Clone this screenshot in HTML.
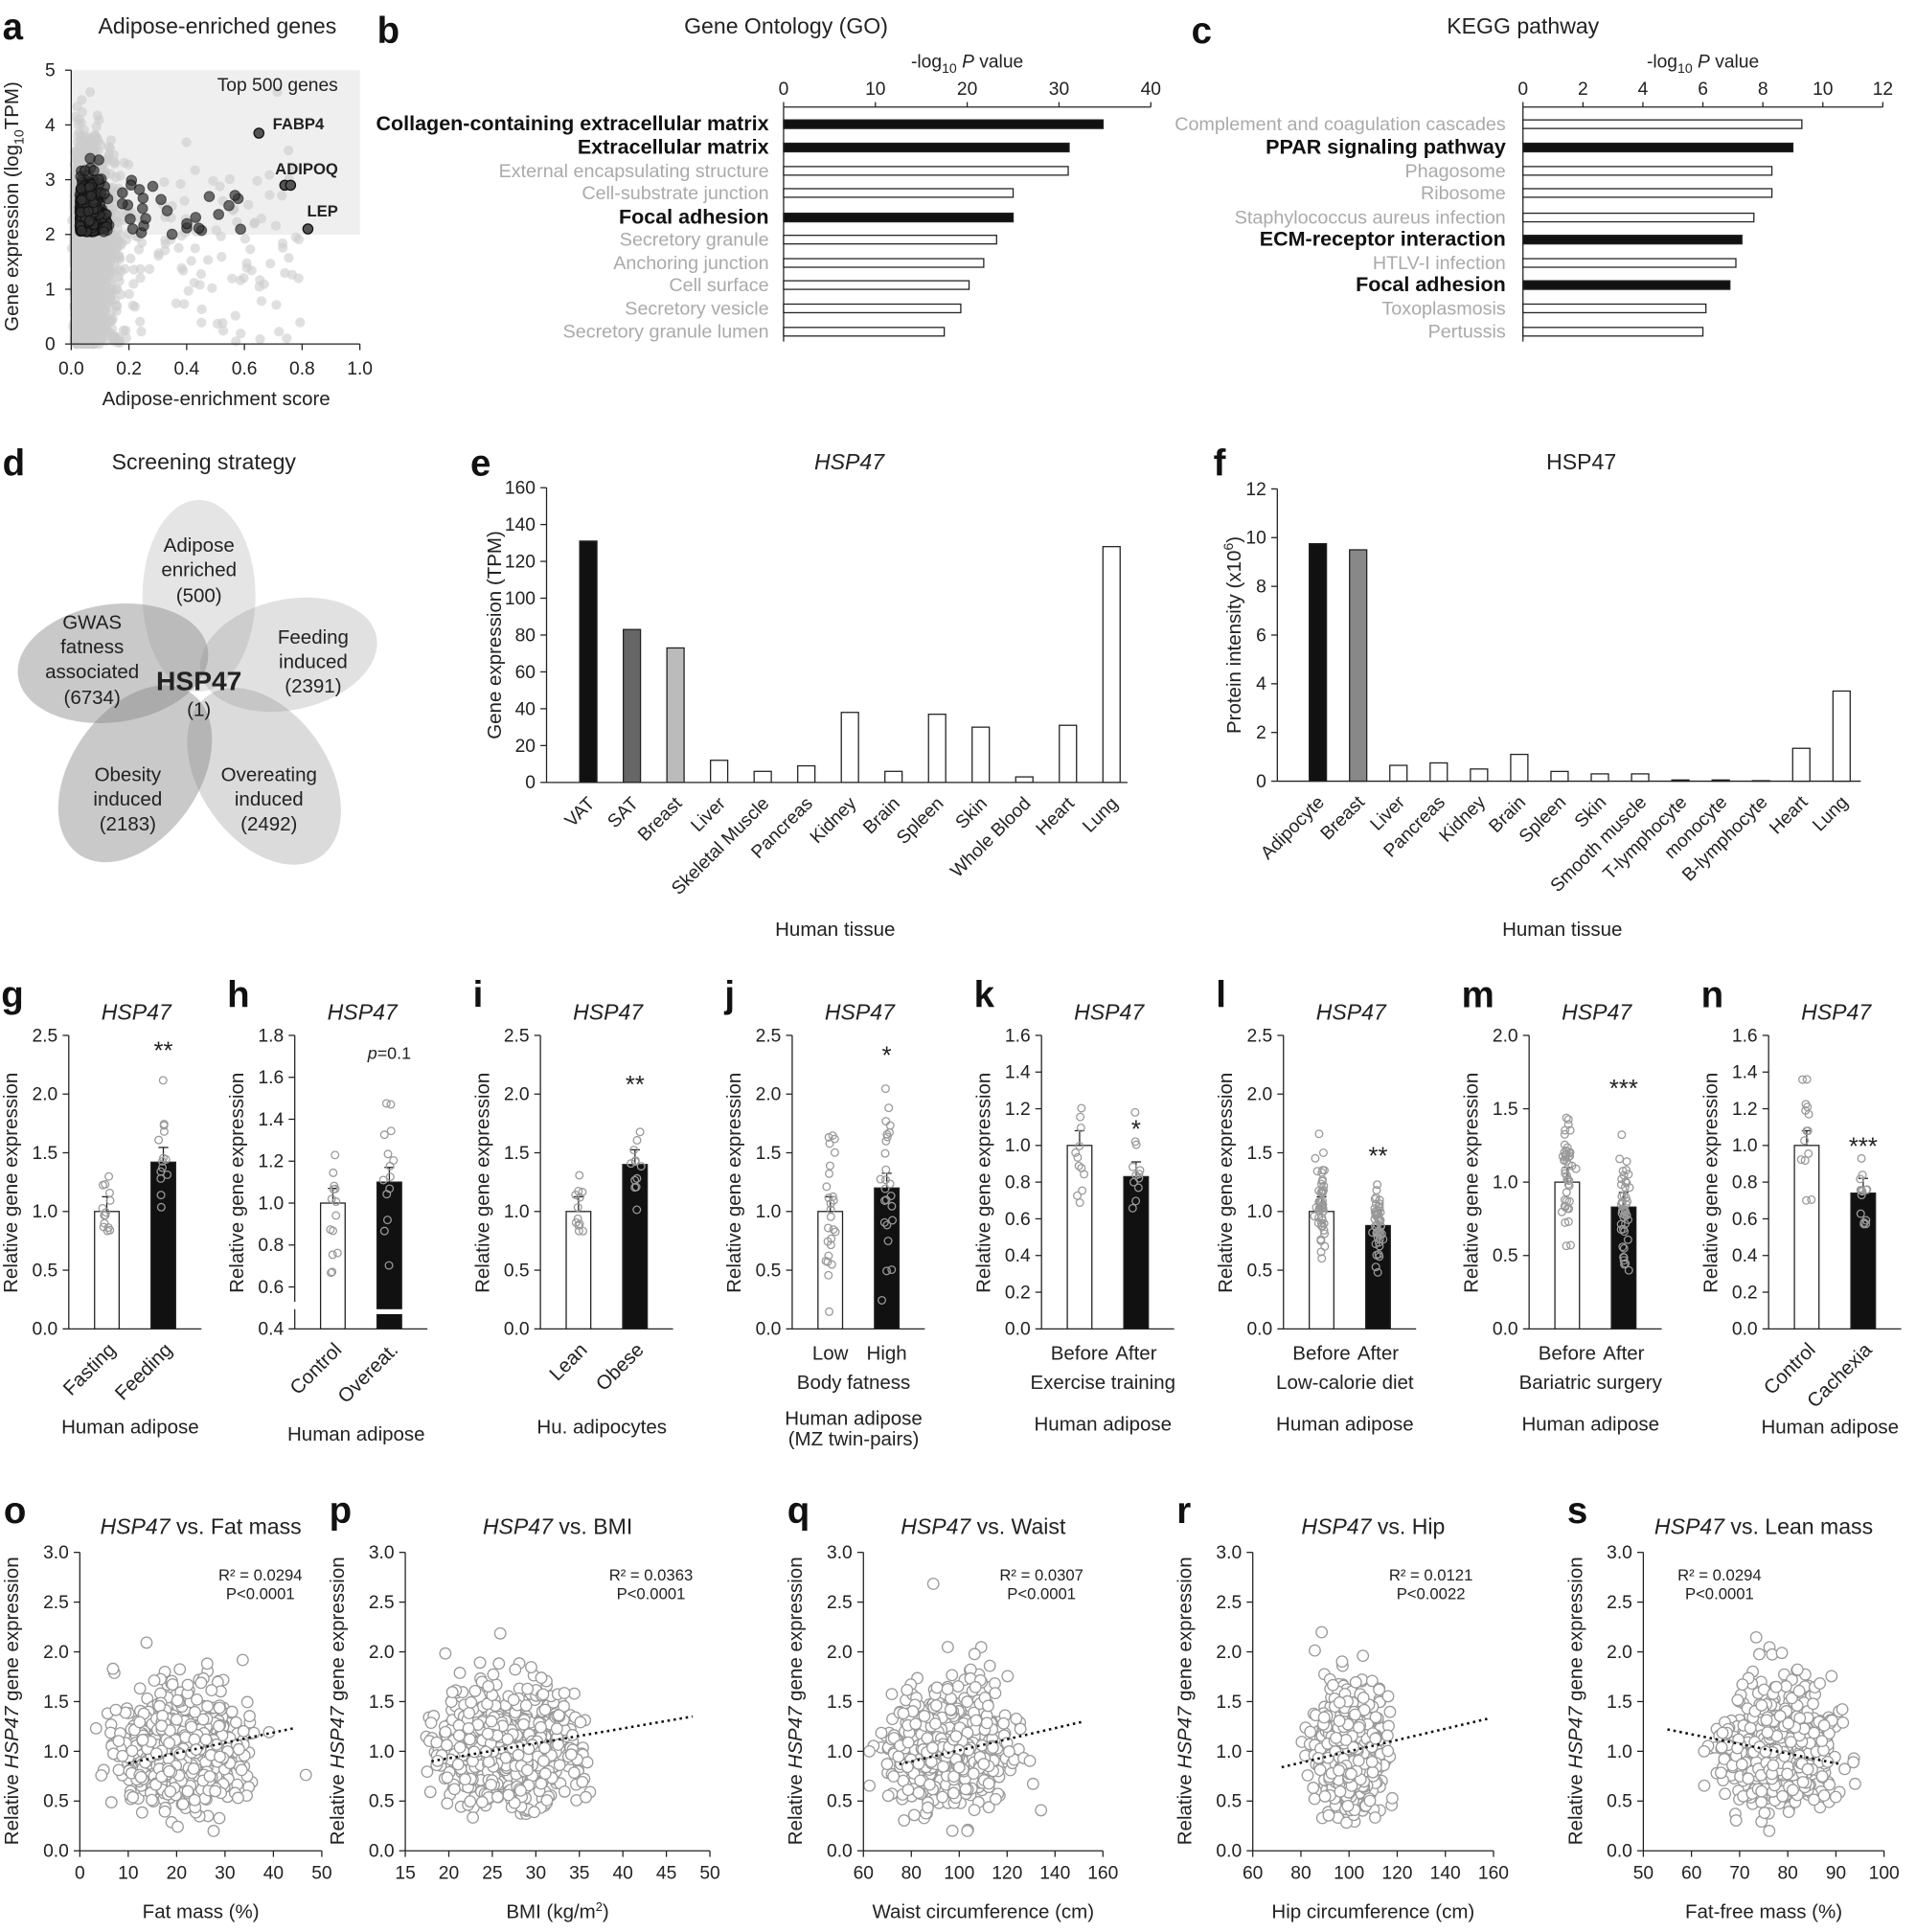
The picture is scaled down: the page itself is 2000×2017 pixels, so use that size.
<!DOCTYPE html>
<html><head><meta charset="utf-8"><style>
html,body{margin:0;padding:0;background:#fff;}
svg{display:block;font-family:"Liberation Sans",sans-serif;}
</style></head><body>
<svg id="s" width="2000" height="2017" viewBox="0 0 1560 1573" xmlns="http://www.w3.org/2000/svg"></svg>
<script>
var s='';
var seed=12345;function rnd(){seed=(seed*1103515245+12345)%2147483648;return seed/2147483648;}
function gauss(){var u=rnd()||1e-6,v=rnd();return Math.sqrt(-2*Math.log(u))*Math.cos(2*Math.PI*v);}
function L(v,a,b,p,q){return p+(v-a)/(b-a)*(q-p);}
function T(x,y,t,o){o=o||{};s+='<text x="'+x+'" y="'+y+'" font-size="'+(o.fs||14)+'" text-anchor="'+(o.a||'middle')+'" fill="'+(o.c||'#222')+'"'+(o.b?' font-weight="bold"':'')+(o.i?' font-style="italic"':'')+(o.r!=null?' transform="rotate('+o.r+' '+x+' '+y+')"':'')+'>'+t+'</text>';}
function ln(x1,y1,x2,y2,c,w,d){s+='<line x1="'+x1+'" y1="'+y1+'" x2="'+x2+'" y2="'+y2+'" stroke="'+(c||'#222')+'" stroke-width="'+(w||1)+'"'+(d?' stroke-dasharray="'+d+'"':'')+'/>';}
function rc(x,y,w,h,f,st){s+='<rect x="'+x+'" y="'+y+'" width="'+w+'" height="'+h+'" fill="'+f+'" stroke="'+(st||'#222')+'" stroke-width="1"/>';}
function ci(x,y,r,f,st,op){s+='<circle cx="'+x.toFixed(1)+'" cy="'+y.toFixed(1)+'" r="'+r+'" fill="'+f+'" stroke="'+(st||'none')+'"'+(op?' opacity="'+op+'"':'')+'/>';}
function letter(x,y,t){T(x,y,t,{fs:30,b:1,a:'start',c:'#111'});}

// ---- Panel a
letter(2,32,'a');
T(177,27,'Adipose-enriched genes',{fs:18});
rc(58,57,235,134,'#efefef','none');
for(var i=0;i<2500;i++){var x=Math.abs(gauss())*0.06+0.01;if(rnd()<0.06)x=rnd()*0.8;var y=2+gauss()*0.8;if(rnd()<0.3)y=rnd()*2;y=Math.max(0,Math.min(4.6,y));ci(L(x,0,1,58,293),L(y,0,5,280,57),4,'#ccc','none',0.6);}
for(var i=0;i<500;i++){var x=0.03+Math.abs(gauss())*0.035;var y=2.05+Math.abs(gauss())*0.45;if(rnd()<0.05){x=0.1+rnd()*0.5;y=2+rnd()*1;}y=Math.min(3.5,y);ci(L(x,0,1,58,293),L(y,0,5,280,57),4,'#333','#111',0.7);}
[[0.65,3.85],[0.74,2.9],[0.76,2.9],[0.82,2.1]].forEach(function(p){ci(L(p[0],0,1,58,293),L(p[1],0,5,280,57),4,'#555','#111');});
T(226,74,'Top 500 genes',{fs:15});T(222,105,'FABP4',{fs:13,b:1,a:'start'});T(224,142,'ADIPOQ',{fs:13,b:1,a:'start'});T(250,176,'LEP',{fs:13,b:1,a:'start'});
ln(58,57,58,280);ln(58,280,293,280);
for(var k=0;k<=5;k++){var y=L(k,0,5,280,57);ln(53,y,58,y);T(45,y+5,k,{a:'end',fs:15});}
for(var k=0;k<=5;k++){var x=L(k,0,5,58,293);ln(x,280,x,285);T(x,305,(k*0.2).toFixed(1),{fs:15});}
T(176,330,'Adipose-enrichment score',{fs:16});
T(15,168,'Gene expression (log<tspan font-size="11" dy="4">10</tspan><tspan dy="-4">TPM)</tspan>',{fs:16,r:-90});

// ---- Panels b,c
function hbar(x0,x1,max,step,vals,labs,bold,title,tx,lx){
 T(tx,27,title,{fs:18});
 T((x0+x1)/2,55,'-log<tspan font-size="11" dy="4">10</tspan><tspan dy="-4"> </tspan><tspan font-style="italic">P</tspan> value',{fs:15});
 ln(x0,87,x1,87);
 for(var v=0;v<=max;v+=step){var x=L(v,0,max,x0,x1);ln(x,83,x,87);T(x,77,v,{fs:15});}
 ln(x0,87,x0,278);
 var ys=[101,120,139,157,177,195,214,232,251,270];
 vals.forEach(function(v,i){var b=bold.indexOf(i)>=0;rc(x0,ys[i]-3.5,L(v,0,max,x0,x1)-x0,7,b?'#111':'#fff');
  T(lx,ys[i]+5,labs[i],{fs:b?16.8:15.4,a:'end',b:b,c:b?'#111':'#aaa'});});
}
letter(307,35,'b');
hbar(638,937,40,10,[34.8,31.1,31,25,25,23.2,21.8,20.2,19.3,17.5],['Collagen-containing extracellular matrix','Extracellular matrix','External encapsulating structure','Cell-substrate junction','Focal adhesion','Secretory granule','Anchoring junction','Cell surface','Secretory vesicle','Secretory granule lumen'],[0,1,4],'Gene Ontology (GO)',640,626);
letter(970,35,'c');
hbar(1240,1533,12,2,[9.3,9.0,8.3,8.3,7.7,7.3,7.1,6.9,6.1,6.0],['Complement and coagulation cascades','PPAR signaling pathway','Phagosome','Ribosome','Staphylococcus aureus infection','ECM-receptor interaction','HTLV-I infection','Focal adhesion','Toxoplasmosis','Pertussis'],[1,5,7],'KEGG pathway',1240,1226);

// ---- Panel d
letter(2,387,'d');
T(166,382,'Screening strategy',{fs:18});
function el(cx,cy,rx,ry,rot,op){s+='<ellipse cx="'+cx+'" cy="'+cy+'" rx="'+rx+'" ry="'+ry+'" transform="rotate('+rot+' '+cx+' '+cy+')" fill="#888" opacity="'+op+'"/>';}
el(162,485,46,78,0,0.22);el(92,540,78,48,-8,0.45);el(235,533,73,45,-12,0.25);el(110,630,52,80,35,0.45);el(215,632,52,80,-35,0.3);
T(162,449,'Adipose',{fs:16});T(162,469,'enriched',{fs:16});T(162,490,'(500)',{fs:16});
T(75,512,'GWAS',{fs:16});T(75,532,'fatness',{fs:16});T(75,552,'associated',{fs:16});T(75,573,'(6734)',{fs:16});
T(255,524,'Feeding',{fs:16});T(255,544,'induced',{fs:16});T(255,564,'(2391)',{fs:16});
T(104,636,'Obesity',{fs:16});T(104,656,'induced',{fs:16});T(104,676,'(2183)',{fs:16});
T(219,636,'Overeating',{fs:16});T(219,656,'induced',{fs:16});T(219,676,'(2492)',{fs:16});
T(162,562,'HSP47',{fs:22,b:1});T(162,583,'(1)',{fs:16});

// ---- Panel e,f
function vbar(x0,x1,yb,yt,max,step,vals,labs,cols,title,ti,ylab,xs,ylx){
 T((x0+x1)/2+10,382,title,{fs:18,i:ti});
 ln(x0,yt,x0,yb);ln(x0,yb,x1,yb);
 for(var v=0;v<=max;v+=step){var y=L(v,0,max,yb,yt);ln(x0-5,y,x0,y);T(x0-9,y+5,v,{a:'end',fs:15});}
 vals.forEach(function(v,i){var y=L(v,0,max,yb,yt);rc(xs[i]-7,y,14,yb-y,cols[i]||'#fff');T(xs[i]+6,yb+18,labs[i],{fs:15,a:'end',r:-45});});
 T(ylx,(yb+yt)/2,ylab,{fs:16,r:-90});
}
letter(383,387,'e');
var ex=[];for(var i=0;i<13;i++)ex.push(479+i*35.5);
vbar(445,918,637,397,160,20,[131,83,73,12,6,9,38,6,37,30,3,31,128],['VAT','SAT','Breast','Liver','Skeletal Muscle','Pancreas','Kidney','Brain','Spleen','Skin','Whole Blood','Heart','Lung'],['#111','#666','#bbb'],'HSP47',1,'Gene expression (TPM)',ex,408);
T(680,762,'Human tissue',{fs:16});
letter(988,387,'f');
var fx=[];for(var i=0;i<14;i++)fx.push(1073+i*32.8);
vbar(1040,1515,636,398,12,2,[9.75,9.5,0.65,0.75,0.5,1.1,0.4,0.3,0.3,0.05,0.05,0.02,1.35,3.7],['Adipocyte','Breast','Liver','Pancreas','Kidney','Brain','Spleen','Skin','Smooth muscle','T-lymphocyte','monocyte','B-lymphocyte','Heart','Lung'],['#111','#888'],'HSP47',0,'Protein intensity (x10<tspan font-size="11" dy="-6">6</tspan><tspan dy="6">)</tspan>',fx,1010);
T(1272,762,'Human tissue',{fs:16});

// ---- Panels g-n
var P=[
 {x:56,l:'g',mn:0,mx:2.5,st:0.5,v:[1,1.42],rot:1,xl:['Fasting','Feeding'],sub:[['Human adipose',1167]],star:'**',sy:862,n:14,sp:0.18},
 {x:240,l:'h',mn:0.4,mx:1.8,st:0.2,v:[1,1.1],rot:1,xl:['Control','Overeat.'],sub:[['Human adipose',1173]],star:'<tspan font-style="italic">p</tspan>=0.1',sy:862,sfs:14,brk:1,n:14,sp:0.22},
 {x:440,l:'i',mn:0,mx:2.5,st:0.5,v:[1,1.4],rot:1,xl:['Lean','Obese'],sub:[['Hu. adipocytes',1167]],star:'**',sy:890,n:12,sp:0.15},
 {x:645,l:'j',mn:0,mx:2.5,st:0.5,v:[1,1.2],rot:0,xl:['Low','High'],sub:[['Body fatness',1131],['Human adipose',1160],['(MZ twin-pairs)',1177]],star:'*',sy:866,n:26,sp:0.38},
 {x:848,l:'k',mn:0,mx:1.6,st:0.2,v:[1,0.83],rot:0,xl:['Before','After'],sub:[['Exercise training',1131],['Human adipose',1165]],star:'*',sy:926,n:12,sp:0.15},
 {x:1045,l:'l',mn:0,mx:2.5,st:0.5,v:[1,0.88],rot:0,xl:['Before','After'],sub:[['Low-calorie diet',1131],['Human adipose',1165]],star:'**',sy:948,n:50,sp:0.2},
 {x:1245,l:'m',mn:0,mx:2.0,st:0.5,v:[1,0.83],rot:0,xl:['Before','After'],sub:[['Bariatric surgery',1131],['Human adipose',1165]],star:'***',sy:893,n:45,sp:0.25},
 {x:1440,l:'n',mn:0,mx:1.6,st:0.2,v:[1,0.74],rot:1,xl:['Control','Cachexia'],sub:[['Human adipose',1167]],star:'***',sy:940,n:14,sp:0.15}
];
P.forEach(function(p){
 var x0=p.x,yb=1082,yt=843;
 letter(x0-55,820,p.l);
 T(x0+55,830,'HSP47',{fs:18,i:1});
 ln(x0,yt,x0,yb);ln(x0,yb,x0+108,yb);
 for(var v=p.mn;v<=p.mx+1e-9;v+=p.st){var y=L(v,p.mn,p.mx,yb,yt);ln(x0-5,y,x0,y);T(x0-9,y+5,v.toFixed(1),{a:'end',fs:15});}
 var bx=[x0+31,x0+77];
 p.v.forEach(function(v,i){var y=L(v,p.mn,p.mx,yb,yt);rc(bx[i]-10,y,20,yb-y,i?'#111':'#fff');ln(bx[i],y,bx[i],y-12,'#222');ln(bx[i]-4,y-12,bx[i]+4,y-12,'#222');
  for(var k=0;k<p.n;k++){var vv=v+gauss()*v*p.sp;var yy=L(vv,p.mn,p.mx,yb,yt);if(yy>yb||yy<yt)continue;ci(bx[i]+gauss()*2,yy,3,'none','#999');}});
 if(p.brk){rc(x0-3,1060,6,6,'#fff','none');rc(bx[1]-11,1066,22,4,'#fff','none');}
 T(bx[1],p.sy,p.star,{fs:p.sfs||20});
 p.xl.forEach(function(t,i){if(p.rot)T(bx[i]+8,1100,t,{fs:16,a:'end',r:-45});else T(bx[i],1107,t,{fs:16});});
 p.sub.forEach(function(q){T(x0+50,q[1],q[0],{fs:16});});
 T(x0-42,963,'Relative gene expression',{fs:16,r:-90});
});

// ---- Panels o-s
var S=[
 {x0:65,x1:262,a:0,b:50,st:10,l:'o',t:'Fat mass',xl:'Fat mass (%)',m:21,sd:6,r2:'R² = 0.0294',pv:'P<0.0001',rx:212,tr:[10,0.88,44,1.23]},
 {x0:330,x1:578,a:15,b:50,st:5,l:'p',t:'BMI',xl:'BMI (kg/m<tspan font-size="10" dy="-6">2</tspan><tspan dy="6">)</tspan>',m:26.5,sd:4.2,r2:'R² = 0.0363',pv:'P<0.0001',rx:530,tr:[18,0.9,48,1.35]},
 {x0:703,x1:898,a:60,b:160,st:20,l:'q',t:'Waist',xl:'Waist circumference (cm)',m:96,sd:12,r2:'R² = 0.0307',pv:'P<0.0001',rx:848,tr:[75,0.87,152,1.3]},
 {x0:1020,x1:1216,a:60,b:160,st:20,l:'r',t:'Hip',xl:'Hip circumference (cm)',m:100,sd:6.5,r2:'R² = 0.0121',pv:'P<0.0022',rx:1165,tr:[72,0.84,158,1.33]},
 {x0:1338,x1:1534,a:50,b:100,st:10,l:'s',t:'Lean mass',xl:'Fat-free mass (%)',m:78,sd:5.5,r2:'R² = 0.0294',pv:'P<0.0001',rx:1400,tr:[55,1.22,91,0.87]}
];
S.forEach(function(p){
 var yb=1507,yt=1264;
 letter(p.x0-62,1240,p.l);
 T((p.x0+p.x1)/2,1249,'<tspan font-style="italic">HSP47</tspan> vs. '+p.t,{fs:18});
 for(var i=0;i<800;i++){var x=p.m+gauss()*p.sd;if(x<p.a+2||x>p.b-2)continue;var y=1.0+gauss()*0.26;if(rnd()<0.02)y+=0.7;y=Math.max(0.2,Math.min(2.7,y));
  ci(L(x,p.a,p.b,p.x0,p.x1),L(y,0,3,yb,yt),4.5,'#fff','#999');}
 ln(L(p.tr[0],p.a,p.b,p.x0,p.x1),L(p.tr[1],0,3,yb,yt),L(p.tr[2],p.a,p.b,p.x0,p.x1),L(p.tr[3],0,3,yb,yt),'#111',2,'2,3');
 ln(p.x0,yt,p.x0,yb);ln(p.x0,yb,p.x1,yb);
 for(var v=0;v<=3.001;v+=0.5){var y=L(v,0,3,yb,yt);ln(p.x0-5,y,p.x0,y);T(p.x0-9,y+5,v.toFixed(1),{a:'end',fs:15});}
 for(var v=p.a;v<=p.b;v+=p.st){var x=L(v,p.a,p.b,p.x0,p.x1);ln(x,yb,x,yb+5);T(x,yb+23,v,{fs:15});}
 T((p.x0+p.x1)/2,1562,p.xl,{fs:16});
 T(p.rx,1287,p.r2,{fs:13});T(p.rx,1302,p.pv,{fs:13});
 T(p.x0-50,1385,'Relative <tspan font-style="italic">HSP47</tspan> gene expression',{fs:16,r:-90});
});
document.getElementById('s').innerHTML=s;
</script>
</body></html>
